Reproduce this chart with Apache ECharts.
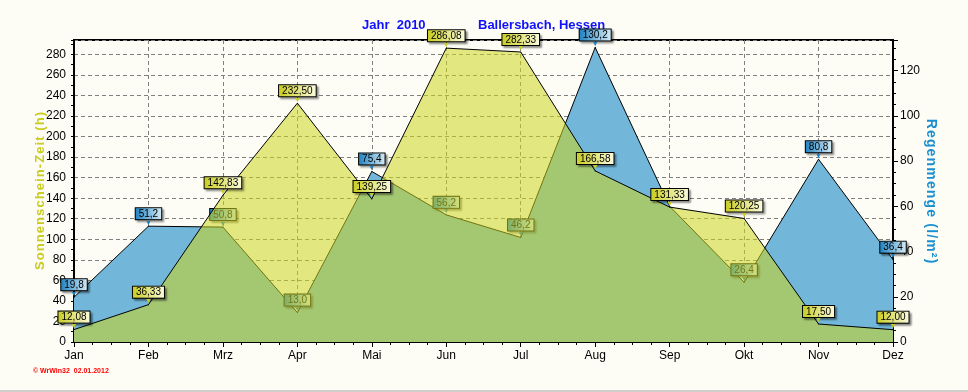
<!DOCTYPE html>
<html>
<head>
<meta charset="utf-8">
<script src="https://cdn.jsdelivr.net/npm/echarts@6/dist/echarts.min.js"></script>
<style>
html,body{margin:0;padding:0;background:#fdfdf6;}
#c{width:968px;height:392px;}
</style>
</head>
<body>
<div id="c"></div>
<script>
const months = ['Jan','Feb','Mrz','Apr','Mai','Jun','Jul','Aug','Sep','Okt','Nov','Dez'];
const sunHours = [12.08,36.33,142.83,232.50,139.25,286.08,282.33,166.58,131.33,120.25,17.50,12.00];
const rainAmount = [19.8,51.2,50.8,13.0,75.4,56.2,46.2,130.2,60.0,26.4,80.8,36.4];
const rainHiddenLabelMonths = ['Sep'];
const titleYear = 'Jahr  2010';
const titlePlace = 'Ballersbach, Hessen';
const leftAxisName = 'Sonnenschein-Zeit (h)';
const rightAxisName = 'Regenmenge (l/m²)';
const watermark = '© WrWin32  02.01.2012';

const spaced = s => s.split('').join('\u200A');
const fmt = (v, d) => v.toFixed(d).replace('.', ',');

function labelCfg(dec, c1, c2, tri) {
  return {
    show: true, position: 'top', distance: 0,
    formatter: p => '{b|' + fmt(p.value, dec) + '}\n{t|▼}',
    rich: {
      b: {
        fontFamily: 'Liberation Sans, Arial, sans-serif', fontSize: 10, color: '#000',
        lineHeight: 12, padding: [1, 3, 0, 3], borderColor: '#000', borderWidth: 1,
        backgroundColor: {type:'linear',x:0,y:0,x2:1,y2:0,colorStops:[{offset:0,color:c1},{offset:1,color:c2}]},
        shadowColor: 'rgba(0,0,0,0.35)', shadowBlur: 2, shadowOffsetX: 2, shadowOffsetY: 2
      },
      t: { fontSize: 7, lineHeight: 6, color: tri, align: 'center' }
    }
  };
}

const chart = echarts.init(document.getElementById('c'), null, {renderer: 'canvas'});
const font = 'Liberation Sans, Arial, sans-serif';

chart.setOption({
  backgroundColor: '#fdfdf6',
  animation: false,
  grid: {left: 74, right: 75, top: 40, bottom: 50, show: true, borderColor: '#000', borderWidth: 2, backgroundColor: 'transparent'},
  graphic: [
    {type:'text', left: 362, top: 19, style:{text: titleYear, fill:'#1010ff', font:'bold 13px ' + font}},
    {type:'text', left: 478, top: 19, style:{text: titlePlace, fill:'#1010ff', font:'bold 13px ' + font}},
    {type:'text', left: 33, top: 368, style:{text: watermark, fill:'#ff0000', font:'bold 7px ' + font}},
    {type:'line', shape:{x1:0,y1:391,x2:968,y2:391}, style:{stroke:'#a0a0a0', lineWidth:1}}
  ],
  xAxis: [
    {
      type: 'category', data: months, boundaryGap: false,
      axisLine: {lineStyle: {color: '#000', width: 2}},
      axisTick: {show: true, length: 5, lineStyle: {color: '#000'}},
      axisLabel: {color: '#000', fontSize: 12, fontFamily: font, margin: 8},
      splitLine: {show: true, lineStyle: {color: '#808080', type: [4, 3]}}
    },
    {
      type: 'value', min: 0, max: 11, interval: 1, position: 'bottom',
      axisLine: {show: false}, axisTick: {show: false}, axisLabel: {show: false}, splitLine: {show: false},
      minorTick: {show: true, splitNumber: 4, length: 3, lineStyle: {color: '#000'}}
    }
  ],
  yAxis: [
    {
      type: 'value', min: 0, max: 294, interval: 20,
      name: spaced(leftAxisName), nameLocation: 'middle', nameRotate: 90, nameGap: 27, nameMoveOverlap: false,
      nameTextStyle: {color: '#c8cc1e', fontSize: 13, fontWeight: 'bold', fontFamily: font},
      axisLine: {show: true, lineStyle: {color: '#000', width: 2}},
      axisTick: {show: true, length: 3, lineStyle: {color: '#000'}},
      minorTick: {show: true, splitNumber: 2, length: 3, lineStyle: {color: '#000'}},
      axisLabel: {color: '#000', fontSize: 12, fontFamily: font, margin: 8, showMaxLabel: false},
      splitLine: {show: true, lineStyle: {color: '#808080', type: [4, 3]}}
    },
    {
      type: 'value', min: 0, max: 133.5, interval: 20, position: 'right',
      name: spaced(rightAxisName), nameLocation: 'middle', nameRotate: -90, nameGap: 31, nameMoveOverlap: false,
      nameTextStyle: {color: '#1a8fd0', fontSize: 14, fontWeight: 'bold', fontFamily: font},
      axisLine: {show: true, lineStyle: {color: '#000', width: 2}},
      axisTick: {show: true, length: 5, lineStyle: {color: '#000'}},
      minorTick: {show: true, splitNumber: 4, length: 3, lineStyle: {color: '#000'}},
      axisLabel: {color: '#000', fontSize: 12, fontFamily: font, margin: 7, showMaxLabel: false},
      splitLine: {show: false}
    }
  ],
  series: [
    {
      name: 'Regenmenge', type: 'line', yAxisIndex: 1, z: 2,
      data: rainAmount.map((v, i) => rainHiddenLabelMonths.includes(months[i]) ? {value: v, label: {show: false}} : v),
      symbol: 'circle', symbolSize: 1, itemStyle: {color: '#000'},
      lineStyle: {color: '#000', width: 1},
      areaStyle: {color: '#72b7da', opacity: 1},
      label: labelCfg(1, '#1c80c0', '#d8ecf6', '#1c80c0')
    },
    {
      name: 'Sonnenschein', type: 'line', yAxisIndex: 0, z: 3,
      data: sunHours,
      symbol: 'circle', symbolSize: 1, itemStyle: {color: '#000'},
      lineStyle: {color: '#000', width: 1},
      areaStyle: {color: 'rgba(205,214,30,0.55)', opacity: 1},
      label: labelCfg(2, '#c8cc1e', '#fbfbe0', '#c8cc1e')
    }
  ]
});
</script>
</body>
</html>
